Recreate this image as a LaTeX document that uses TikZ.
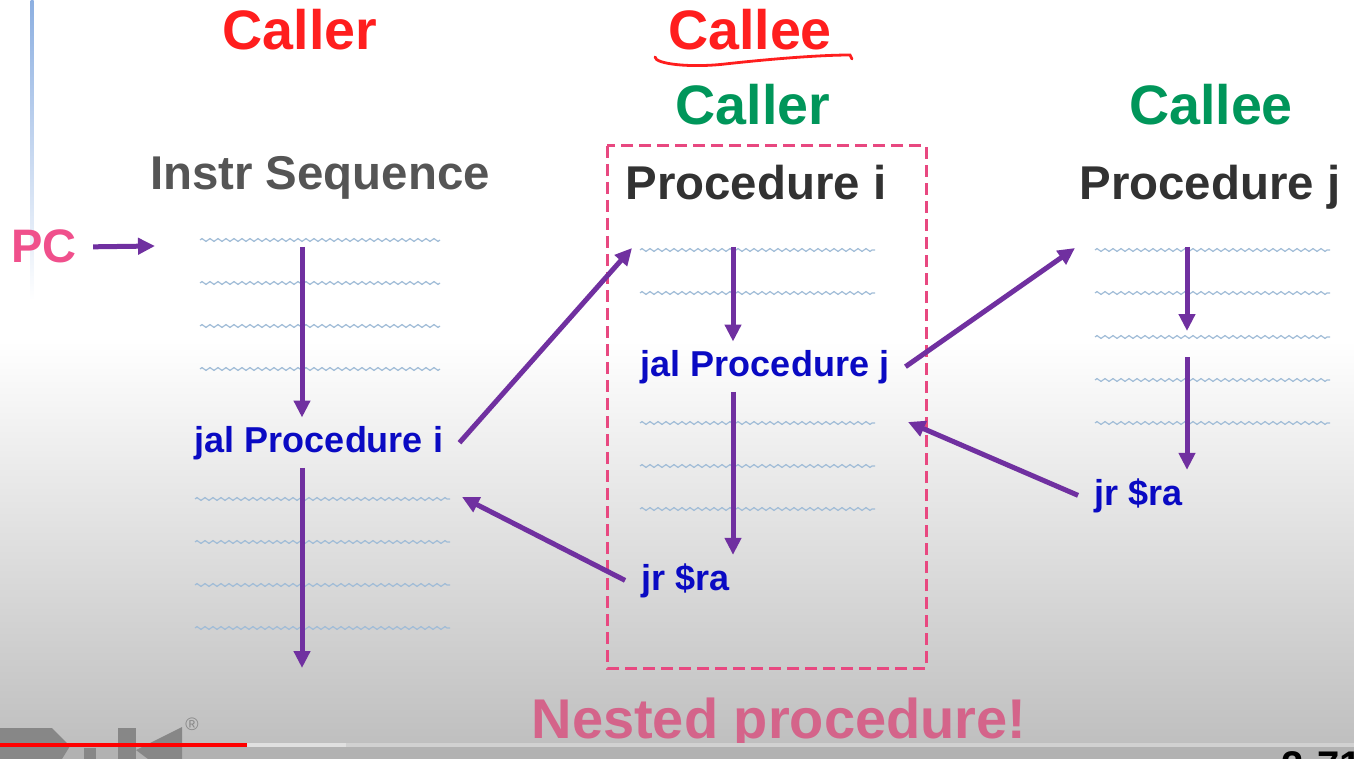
\documentclass[tikz,border=0pt]{standalone}
\usepackage{fontspec}
\setmainfont{Liberation Sans}
\usetikzlibrary{arrows.meta,decorations.pathmorphing}

\definecolor{slidered}{RGB}{255,30,30}
\definecolor{slidegreen}{RGB}{0,150,90}
\definecolor{headgray}{RGB}{85,85,85}
\definecolor{procgray}{RGB}{50,50,50}
\definecolor{flowpurple}{RGB}{112,48,160}
\definecolor{instrblue}{RGB}{10,10,195}
\definecolor{pcpink}{RGB}{240,80,140}
\definecolor{boxpink}{RGB}{232,72,128}
\definecolor{nestpink}{RGB}{212,100,138}
\definecolor{wavyblue}{RGB}{160,188,215}
\definecolor{logogray}{RGB}{135,135,135}
\definecolor{edgeblue}{RGB}{140,175,225}

\begin{document}
\begin{tikzpicture}[x=0.5pt, y=-0.5pt,
  title/.style={font=\fontsize{27.8}{32}\selectfont\bfseries, anchor=base, inner sep=0pt},
  heading/.style={font=\fontsize{23.7}{28}\selectfont\bfseries, anchor=base, inner sep=0pt},
  instr/.style={font=\fontsize{18}{21}\selectfont\bfseries, text=instrblue, anchor=base,
    inner xsep=8pt, inner ysep=4pt},
  flow/.style={draw=flowpurple, line width=2.5pt, -{Triangle[length=8.5pt,width=8pt]}},
  wavy/.style={draw=wavyblue, line width=0.6pt, decorate,
    decoration={zigzag, segment length=4pt, amplitude=0.7pt}}]
  \useasboundingbox (0,0) rectangle (1354,759);

  % slide background
  \fill[white] (0,0) rectangle (1354,759);
  \shade[top color=white, bottom color=black!25] (0,340) rectangle (1354,743);
  \shade[top color=edgeblue, bottom color=white] (30.5,0) rectangle (33.5,300);

  % column titles
  \node[title, text=slidered] (callerTop) at (300,50) {Caller};
  \node[title, text=slidered] (calleeTop) at (750,50) {Callee};
  \draw[slidered, line width=1.4pt, line cap=round]
    (655,57) .. controls (655,64) and (690,68) .. (725,64)
    .. controls (770,59) and (820,55) .. (850,55) -- (852,59);
  \node[title, text=slidegreen] (callerMid) at (753,125) {Caller};
  \node[title, text=slidegreen] (calleeMid) at (1211,125) {Callee};

  \node[heading, text=headgray] (instrSeq) at (320,190) {Instr Sequence};
  \node[heading, text=procgray] (procI) at (756,200) {Procedure i};
  \node[heading, text=procgray] (procJ) at (1210,200) {Procedure j};

  % program counter
  \node[font=\fontsize{23.5}{28}\selectfont\bfseries, text=pcpink, anchor=base,
    inner xsep=8pt, inner ysep=0pt] (pc) at (44,263) {PC};
  \coordinate (pcTip) at (155,246);
  \draw[flow] (pc.east) -- (pcTip);

  % instruction lines
  \foreach \y in {240,283,326,369}
    {\draw[wavy] (200,\y) -- (440,\y);}
  \foreach \y in {499,542,585,628}
    {\draw[wavy] (195,\y) -- (450,\y);}
  \foreach \y in {250,293,423,466,509}
    {\draw[wavy] (640,\y) -- (875,\y);}
  \foreach \y in {250,293,337,380,423}
    {\draw[wavy] (1095,\y) -- (1330,\y);}

  % call and return instructions
  \node[instr] (jalI) at (319,452) {jal Procedure i};
  \node[instr] (jalJ) at (765,376) {jal Procedure j};
  \node[instr] (jrI) at (685.5,590) {jr \$ra};
  \node[instr] (jrJ) at (1138.5,505) {jr \$ra};

  % nested procedure frame
  \draw[boxpink, line width=1.5pt, dash pattern=on 6pt off 3pt] (607,146) rectangle (926,668);

  % sequential flow
  \coordinate (topSeq) at (302,247);
  \coordinate (endSeq) at (302,668);
  \coordinate (topI) at (733,247);
  \coordinate (topJ) at (1187,247);
  \coordinate (midJ) at (1187,331);
  \coordinate (resJ) at (1187,357);
  \draw[flow] (topSeq) -- (topSeq |- jalI.north);
  \draw[flow] (jalI.south -| topSeq) -- (endSeq);
  \draw[flow] (topI) -- (topI |- jalJ.north);
  \draw[flow] (jalJ.south -| topI) -- (topI |- jrI.north);
  \draw[flow] (topJ) -- (midJ);
  \draw[flow] (resJ) -- (resJ |- jrJ.north);

  % calls and returns
  \coordinate (entryI) at (632,248);
  \coordinate (retI) at (462,497);
  \coordinate (entryJ) at (1075,248);
  \coordinate (retJ) at (908,422);
  \draw[flow] (jalI.east) -- (entryI);
  \draw[flow] (jrI.west) -- (retI);
  \draw[flow] (jalJ.east) -- (entryJ);
  \draw[flow] (jrJ.west) -- (retJ);

  \node[font=\fontsize{28}{32}\selectfont\bfseries, text=nestpink, anchor=base,
    inner sep=0pt] (nested) at (779,738) {Nested procedure!};

  % player strip
  \fill[black!30] (0,743) rectangle (1354,759);
  \fill[logogray] (0,728) -- (52,728) -- (70,746) -- (62,759) -- (0,759) -- cycle;
  \fill[logogray] (84,748) -- (96,748) -- (96,759) -- (84,759) -- cycle;
  \fill[logogray] (118,728) -- (136,728) -- (136,759) -- (118,759) -- cycle;
  \fill[logogray] (136,750) -- (182,727) -- (182,759) -- (148,759) -- cycle;
  \node[font=\fontsize{9}{10}\selectfont, text=logogray, inner sep=0pt] (reg) at (192,724) {®};
  \fill[black!18] (0,743) rectangle (1354,747);
  \fill[black!12] (247,743) rectangle (346,747);
  \fill[red] (0,743) rectangle (247,747);
  \node[font=\fontsize{20}{24}\selectfont\bfseries, anchor=base, inner sep=0pt] (page) at (1322,779) {2-71};
\end{tikzpicture}
\end{document}
